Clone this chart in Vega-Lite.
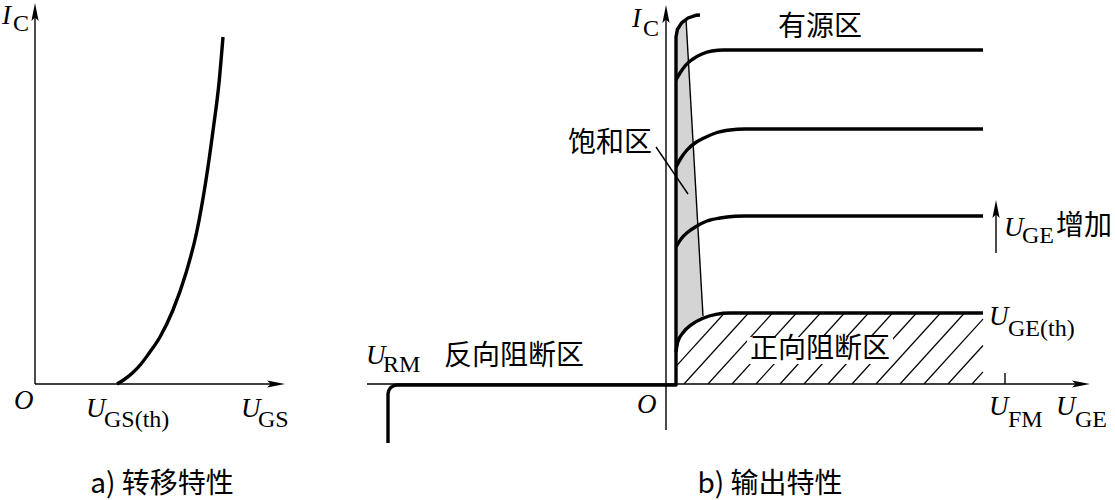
{
  "$schema": "https://vega.github.io/schema/vega-lite/v6.json",
  "autosize": {"type": "fit", "contains": "padding"},
  "width": 1115,
  "height": 500,
  "padding": 0,
  "background": "white",
  "config": {"view": {"stroke": null}},
  "datasets": {
    "sat": [
      {"x": 676, "top": 37, "bottom": 352},
      {"x": 677.4, "top": 29.5, "bottom": 342.5},
      {"x": 679, "top": 26, "bottom": 339.2},
      {"x": 681.6, "top": 22.9, "bottom": 334.8},
      {"x": 684, "top": 20.6, "bottom": 331.6},
      {"x": 686, "top": 19, "bottom": 329.4},
      {"x": 688, "top": 54, "bottom": 327.5},
      {"x": 690, "top": 88.9, "bottom": 325.8},
      {"x": 694, "top": 158.8, "bottom": 322.9},
      {"x": 698, "top": 228.6, "bottom": 320.6},
      {"x": 701, "top": 281, "bottom": 319.1},
      {"x": 703, "top": 316, "bottom": 318.2}
    ],
    "hatch": [
      {"x1": 676, "y1": 366.4, "x2": 723.6, "y2": 314},
      {"x1": 684, "y1": 384, "x2": 748.5, "y2": 313},
      {"x1": 708, "y1": 384, "x2": 772.5, "y2": 313},
      {"x1": 732, "y1": 384, "x2": 796.5, "y2": 313},
      {"x1": 756, "y1": 384, "x2": 820.5, "y2": 313},
      {"x1": 780, "y1": 384, "x2": 844.5, "y2": 313},
      {"x1": 804, "y1": 384, "x2": 868.5, "y2": 313},
      {"x1": 828, "y1": 384, "x2": 892.5, "y2": 313},
      {"x1": 852, "y1": 384, "x2": 916.5, "y2": 313},
      {"x1": 876, "y1": 384, "x2": 940.5, "y2": 313},
      {"x1": 900, "y1": 384, "x2": 964.5, "y2": 313},
      {"x1": 924, "y1": 384, "x2": 983, "y2": 319.1},
      {"x1": 948, "y1": 384, "x2": 983, "y2": 345.5},
      {"x1": 972, "y1": 384, "x2": 983, "y2": 371.9}
    ],
    "blank": [
      {"x1": 747, "x2": 893, "y1": 337, "y2": 364}
    ],
    "rules": [
      {"x1": 35, "y1": 384, "x2": 35, "y2": 14},
      {"x1": 35, "y1": 384, "x2": 278, "y2": 384},
      {"x1": 666, "y1": 430, "x2": 666, "y2": 14},
      {"x1": 367, "y1": 384, "x2": 1082, "y2": 384},
      {"x1": 686, "y1": 19, "x2": 703, "y2": 316},
      {"x1": 656, "y1": 147, "x2": 688, "y2": 194},
      {"x1": 1005, "y1": 373, "x2": 1005, "y2": 384},
      {"x1": 996, "y1": 253, "x2": 996, "y2": 208}
    ],
    "main": [
      {"i": 0, "x": 388, "y": 443},
      {"i": 1, "x": 388, "y": 394},
      {"i": 2, "x": 388.7, "y": 390.6},
      {"i": 3, "x": 390.6, "y": 387.6},
      {"i": 4, "x": 393.6, "y": 385.7},
      {"i": 5, "x": 397, "y": 385},
      {"i": 6, "x": 676, "y": 385},
      {"i": 7, "x": 676, "y": 37},
      {"i": 8, "x": 677.4, "y": 29.5},
      {"i": 9, "x": 681.6, "y": 22.9},
      {"i": 10, "x": 688, "y": 18},
      {"i": 11, "x": 695.8, "y": 15.3},
      {"i": 12, "x": 700, "y": 15}
    ],
    "curves": [
      {"id": "transfer", "x": 117, "y": 384},
      {"id": "transfer", "x": 125, "y": 379},
      {"id": "transfer", "x": 133.5, "y": 372},
      {"id": "transfer", "x": 141, "y": 364},
      {"id": "transfer", "x": 148.5, "y": 354},
      {"id": "transfer", "x": 160, "y": 337},
      {"id": "transfer", "x": 173, "y": 310},
      {"id": "transfer", "x": 186, "y": 273},
      {"id": "transfer", "x": 196.5, "y": 233},
      {"id": "transfer", "x": 206, "y": 180},
      {"id": "transfer", "x": 213.5, "y": 127},
      {"id": "transfer", "x": 219, "y": 83},
      {"id": "transfer", "x": 223, "y": 37},
      {"id": "c1", "x": 676, "y": 80},
      {"id": "c1", "x": 680, "y": 73},
      {"id": "c1", "x": 685, "y": 66},
      {"id": "c1", "x": 693, "y": 59},
      {"id": "c1", "x": 702, "y": 54},
      {"id": "c1", "x": 712, "y": 51},
      {"id": "c1", "x": 724, "y": 50},
      {"id": "c1", "x": 983, "y": 50},
      {"id": "c2", "x": 676, "y": 167},
      {"id": "c2", "x": 681, "y": 158},
      {"id": "c2", "x": 687, "y": 150},
      {"id": "c2", "x": 695, "y": 143},
      {"id": "c2", "x": 704, "y": 138},
      {"id": "c2", "x": 717, "y": 132.5},
      {"id": "c2", "x": 730, "y": 130},
      {"id": "c2", "x": 745, "y": 129},
      {"id": "c2", "x": 983, "y": 129},
      {"id": "c3", "x": 676, "y": 247},
      {"id": "c3", "x": 681, "y": 239},
      {"id": "c3", "x": 688, "y": 232},
      {"id": "c3", "x": 697, "y": 226},
      {"id": "c3", "x": 707, "y": 221},
      {"id": "c3", "x": 720, "y": 218},
      {"id": "c3", "x": 735, "y": 216.3},
      {"id": "c3", "x": 745, "y": 216},
      {"id": "c3", "x": 983, "y": 216},
      {"id": "c4", "x": 676, "y": 352},
      {"id": "c4", "x": 677.8, "y": 341.9},
      {"id": "c4", "x": 683.2, "y": 332.5},
      {"id": "c4", "x": 691.8, "y": 324.4},
      {"id": "c4", "x": 703, "y": 318.2},
      {"id": "c4", "x": 716, "y": 314.3},
      {"id": "c4", "x": 730, "y": 313},
      {"id": "c4", "x": 983, "y": 313}
    ],
    "arrows": [
      {"x": 35, "y": 12, "dir": "up"},
      {"x": 276, "y": 384, "dir": "right"},
      {"x": 666, "y": 14, "dir": "up"},
      {"x": 1081, "y": 384, "dir": "right"},
      {"x": 996, "y": 209, "dir": "up"}
    ],
    "ital": [
      {"x": 2, "y": 24, "t": "I"},
      {"x": 14, "y": 409, "t": "O"},
      {"x": 86, "y": 417, "t": "U"},
      {"x": 241, "y": 417, "t": "U"},
      {"x": 632, "y": 27, "t": "I"},
      {"x": 637, "y": 413, "t": "O"},
      {"x": 366, "y": 364, "t": "U"},
      {"x": 1004, "y": 236, "t": "U"},
      {"x": 989, "y": 325, "t": "U"},
      {"x": 989, "y": 415, "t": "U"},
      {"x": 1056, "y": 415, "t": "U"}
    ],
    "sub": [
      {"x": 13, "y": 31, "t": "C"},
      {"x": 104, "y": 427, "t": "GS(th)"},
      {"x": 258, "y": 427, "t": "GS"},
      {"x": 643, "y": 36, "t": "C"},
      {"x": 383, "y": 372, "t": "RM"},
      {"x": 1022, "y": 243, "t": "GE"},
      {"x": 1008, "y": 336, "t": "GE(th)"},
      {"x": 1008, "y": 427, "t": "FM"},
      {"x": 1075, "y": 427, "t": "GE"}
    ],
    "cjk": [
      {"x": 162, "y": 485, "t": "a) 转移特性"},
      {"x": 770, "y": 485, "t": "b) 输出特性"},
      {"x": 820, "y": 28, "t": "有源区"},
      {"x": 610, "y": 144, "t": "饱和区"},
      {"x": 514, "y": 357, "t": "反向阻断区"},
      {"x": 820, "y": 350, "t": "正向阻断区"},
      {"x": 1084, "y": 227, "t": "增加"}
    ]
  },
  "layer": [
    {
      "data": {"name": "sat"},
      "mark": {"type": "area", "orient": "vertical", "color": "#d4d4d4"},
      "encoding": {
        "x": {"field": "x", "type": "quantitative", "scale": {"domain": [0, 1115], "nice": false, "zero": false}, "axis": null},
        "y": {"field": "top", "type": "quantitative", "scale": {"domain": [0, 500], "reverse": true, "nice": false, "zero": false}, "axis": null},
        "y2": {"field": "bottom"}
      }
    },
    {
      "data": {"name": "hatch"},
      "mark": {"type": "rule", "color": "black", "strokeWidth": 1.2},
      "encoding": {
        "x": {"field": "x1", "type": "quantitative", "axis": null},
        "y": {"field": "y1", "type": "quantitative", "axis": null},
        "x2": {"field": "x2"},
        "y2": {"field": "y2"}
      }
    },
    {
      "data": {"name": "blank"},
      "mark": {"type": "rect", "color": "white"},
      "encoding": {
        "x": {"field": "x1", "type": "quantitative", "axis": null},
        "x2": {"field": "x2"},
        "y": {"field": "y1", "type": "quantitative", "axis": null},
        "y2": {"field": "y2"}
      }
    },
    {
      "data": {"name": "rules"},
      "mark": {"type": "rule", "color": "black", "strokeWidth": 1.4},
      "encoding": {
        "x": {"field": "x1", "type": "quantitative", "axis": null},
        "y": {"field": "y1", "type": "quantitative", "axis": null},
        "x2": {"field": "x2"},
        "y2": {"field": "y2"}
      }
    },
    {
      "data": {"name": "main"},
      "mark": {"type": "line", "color": "black", "strokeWidth": 3.4, "strokeJoin": "round", "interpolate": "linear"},
      "encoding": {
        "x": {"field": "x", "type": "quantitative", "axis": null},
        "y": {"field": "y", "type": "quantitative", "axis": null},
        "order": {"field": "i", "type": "quantitative"}
      }
    },
    {
      "data": {"name": "curves"},
      "mark": {"type": "line", "color": "black", "strokeWidth": 3.4, "strokeJoin": "round", "interpolate": "monotone"},
      "encoding": {
        "x": {"field": "x", "type": "quantitative", "axis": null},
        "y": {"field": "y", "type": "quantitative", "axis": null},
        "detail": {"field": "id", "type": "nominal"}
      }
    },
    {
      "data": {"name": "arrows"},
      "mark": {"type": "point", "filled": true, "color": "black", "opacity": 1, "size": 324, "strokeWidth": 0},
      "encoding": {
        "x": {"field": "x", "type": "quantitative", "axis": null},
        "y": {"field": "y", "type": "quantitative", "axis": null},
        "shape": {"field": "dir", "type": "nominal", "legend": null,
          "scale": {"domain": ["up", "right"], "range": ["M0,-1L0.4,1L0,0.6L-0.4,1Z", "M1,0L-1,0.4L-0.6,0L-1,-0.4Z"]}}
      }
    },
    {
      "data": {"name": "ital"},
      "mark": {"type": "text", "font": "Liberation Serif", "fontStyle": "italic", "fontSize": 27, "align": "left", "baseline": "alphabetic", "color": "black"},
      "encoding": {
        "x": {"field": "x", "type": "quantitative", "axis": null},
        "y": {"field": "y", "type": "quantitative", "axis": null},
        "text": {"field": "t"}
      }
    },
    {
      "data": {"name": "sub"},
      "mark": {"type": "text", "font": "Liberation Serif", "fontSize": 24, "align": "left", "baseline": "alphabetic", "color": "black"},
      "encoding": {
        "x": {"field": "x", "type": "quantitative", "axis": null},
        "y": {"field": "y", "type": "quantitative", "axis": null},
        "text": {"field": "t"}
      }
    },
    {
      "data": {"name": "cjk"},
      "mark": {"type": "text", "font": "Noto Sans CJK SC", "fontSize": 28, "align": "center", "baseline": "middle", "color": "black"},
      "encoding": {
        "x": {"field": "x", "type": "quantitative", "axis": null},
        "y": {"field": "y", "type": "quantitative", "axis": null},
        "text": {"field": "t"}
      }
    }
  ]
}
